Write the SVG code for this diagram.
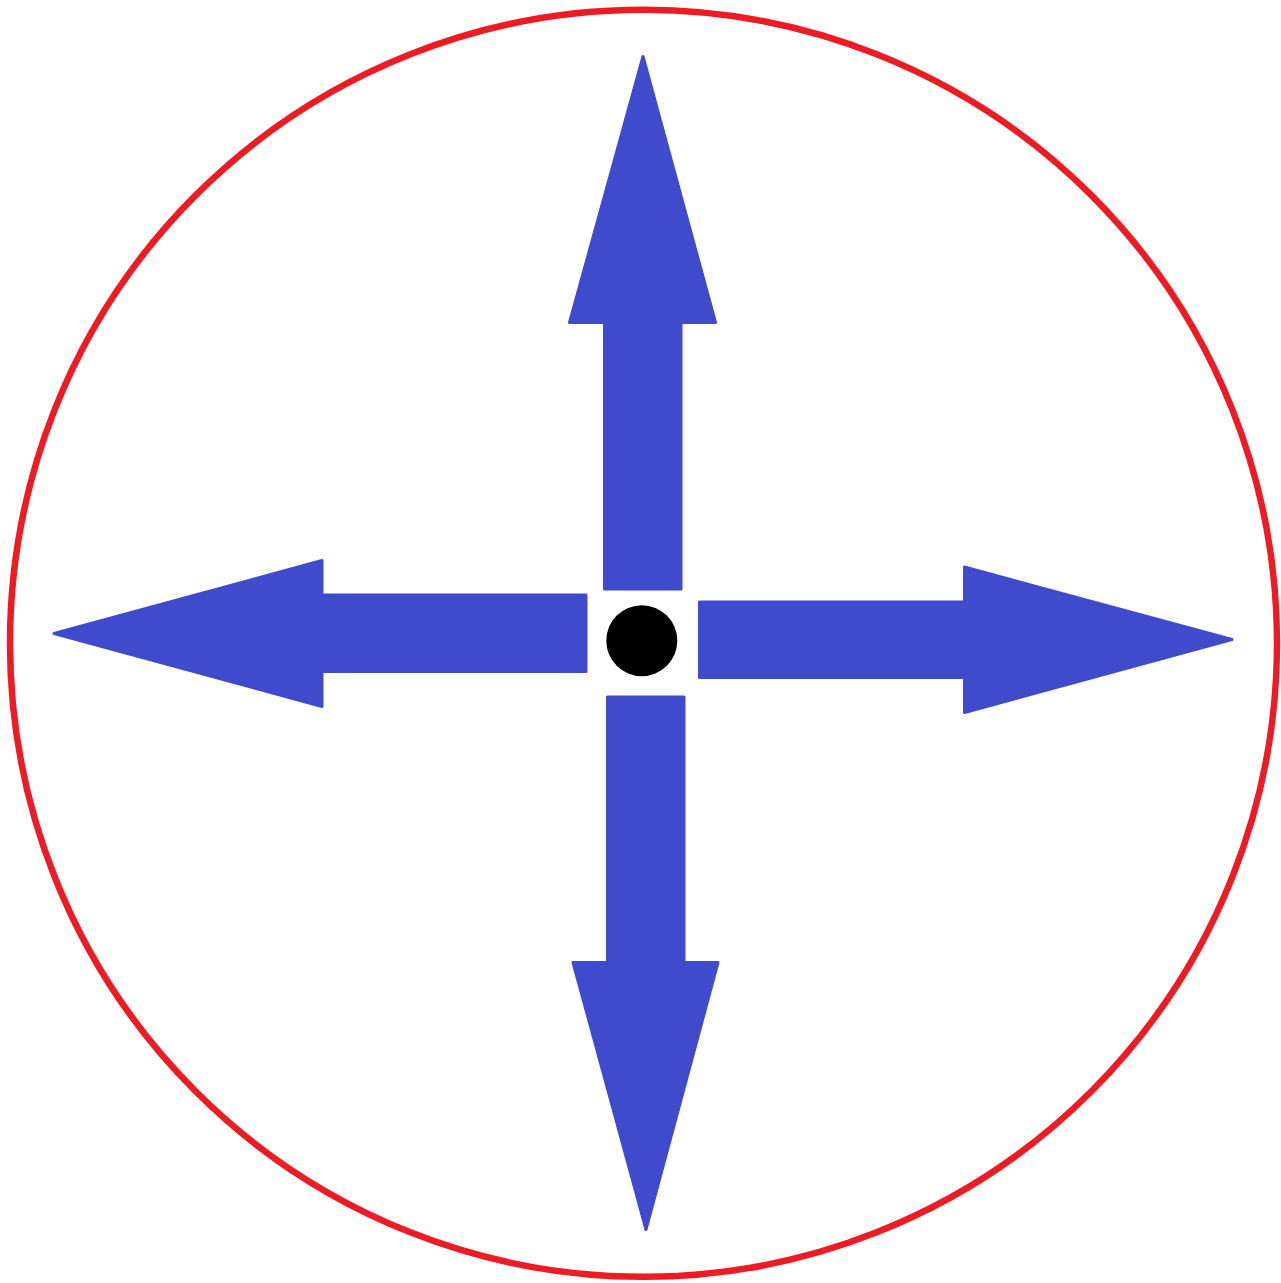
<svg xmlns="http://www.w3.org/2000/svg" width="1281" height="1283" viewBox="0 0 1281 1283">
<style>
.arrow{fill:#3f4acc;stroke:#3f4acc;stroke-width:3;stroke-linejoin:round}
.ring{fill:none;stroke:#ed1c24;stroke-width:6.5}
</style>
<rect width="1281" height="1283" fill="#fff"/>
<g id="ring"><circle class="ring" cx="643.5" cy="643.3" r="633.5"/></g>
<g id="arrows">
<g id="arrow-up"><polygon class="arrow" points="643,56.5 715.5,322.5 681,322.5 681,589 604.5,589 604.5,322.5 569.5,322.5"/></g>
<g id="arrow-down"><polygon class="arrow" points="607.5,697 684,697 684,962.5 718,962.5 646,1229.5 573,962.5 607.5,962.5"/></g>
<g id="arrow-left"><polygon class="arrow" points="54,633.5 322,560.5 322,595 586,595 586,671.5 322,671.5 322,706.5"/></g>
<g id="arrow-right"><polygon class="arrow" points="699.5,602 964.5,602 964.5,567 1232,639.5 964.5,712.5 964.5,677.5 699.5,677.5"/></g>
</g>
<g id="center"><circle cx="641.8" cy="640.7" r="35.5" fill="#000"/></g>
</svg>
